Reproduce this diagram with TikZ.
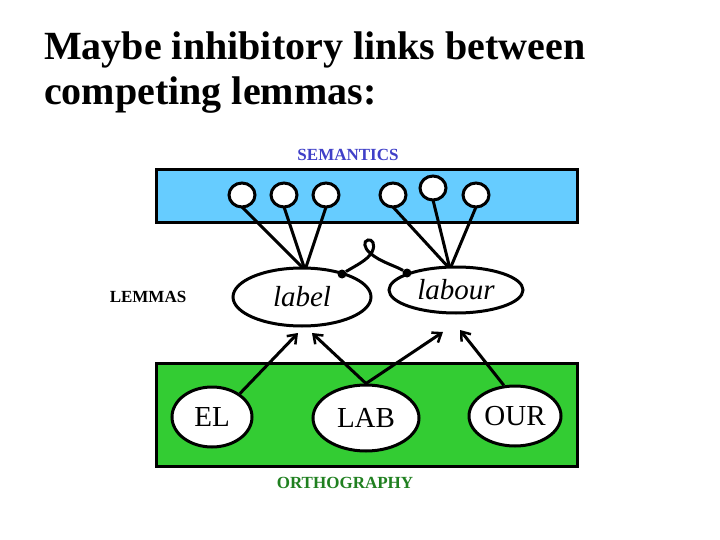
\documentclass[tikz,border=0pt]{standalone}
\usepackage{fontspec}
\setmainfont{Liberation Serif}
\usetikzlibrary{shapes.geometric,arrows.meta}
\begin{document}
\begin{tikzpicture}[x=1pt,y=-1pt,
  lem/.style={draw,line width=3pt,fill=white,ellipse,inner sep=0pt},
  link/.style={line width=3pt},
  arr/.style={line width=3pt,-{Straight Barb[length=8pt,width=12pt,line width=2.5pt]}},
  dot/.style={circle,fill=black,inner sep=0pt,minimum size=9pt}]
\useasboundingbox (0,0) rectangle (720,540);
\node[anchor=west,inner sep=0pt,font=\fontsize{40}{46}\bfseries\selectfont] (t1) at (44,50) {Maybe inhibitory links between};
\node[anchor=west,inner sep=0pt,font=\fontsize{40}{46}\bfseries\selectfont] (t2) at (44,95) {competing lemmas:};
\node[font=\fontsize{17}{20}\bfseries\selectfont,text={rgb,255:red,64;green,64;blue,200}] (sem) at (348,155) {SEMANTICS};
\node[draw,line width=3pt,fill={rgb,255:red,102;green,204;blue,255},minimum width=421pt,minimum height=53pt,inner sep=0pt] (sbox) at (366.5,196.5) {};
\foreach \x/\y in {242/195,284/195,326/195} \draw[link] (\x,\y+12) -- (305,270);
\foreach \x/\y in {393/195,433/188,476/195} \draw[link] (\x,\y+12) -- (450,269);
\foreach \n/\x/\y in {s1/242/195,s2/284/195,s3/326/195,s4/393/195,s5/433/188,s6/476/195}
  \draw[line width=3pt,fill=white] (\x,\y) ellipse (13pt and 12pt) coordinate (\n);
\node[lem,minimum width=138pt,minimum height=58pt,font=\fontsize{29}{32}\itshape\selectfont] (label) at (302,297) {label};
\node[lem,minimum width=134pt,minimum height=46pt,font=\fontsize{29}{32}\itshape\selectfont] (labour) at (456,290) {labour};
\node[font=\fontsize{17}{20}\bfseries\selectfont] (lemmas) at (148,297) {LEMMAS};
% inhibitory link
\node[dot] (d1) at (342,274) {};
\node[dot] (d2) at (407,273) {};
\draw[link] (d1) .. controls (355,266) and (368,260) .. (372,252)
  .. controls (376,244) and (372,239) .. (368,240)
  .. controls (363,241) and (364,248) .. (370,253)
  .. controls (380,262) and (396,266) .. (d2);
\node[draw,line width=3pt,fill={rgb,255:red,51;green,204;blue,51},minimum width=421pt,minimum height=103pt,inner sep=0pt] (obox) at (366.5,414.5) {};
\node[lem,minimum width=80pt,minimum height=60pt,font=\fontsize{29}{32}\selectfont] (el) at (212,417) {EL};
\node[lem,minimum width=106pt,minimum height=66pt,font=\fontsize{29}{32}\selectfont] (lab) at (366,418) {LAB};
\node[lem,minimum width=92pt,minimum height=60pt,font=\fontsize{29}{32}\selectfont] (our) at (515,416) {OUR};
\node[font=\fontsize{17}{20}\bfseries\selectfont,text={rgb,255:red,32;green,128;blue,32}] (orth) at (345,483) {ORTHOGRAPHY};
\coordinate (a1) at (298,333); \coordinate (a2) at (312,333);
\coordinate (a3) at (443,332); \coordinate (a4) at (460,330);
\draw[arr] (el.40) -- (a1);
\draw[arr] (lab.north) -- (a2);
\draw[arr] (lab.north) -- (a3);
\draw[arr] (our.110) -- (a4);
\end{tikzpicture}
\end{document}
